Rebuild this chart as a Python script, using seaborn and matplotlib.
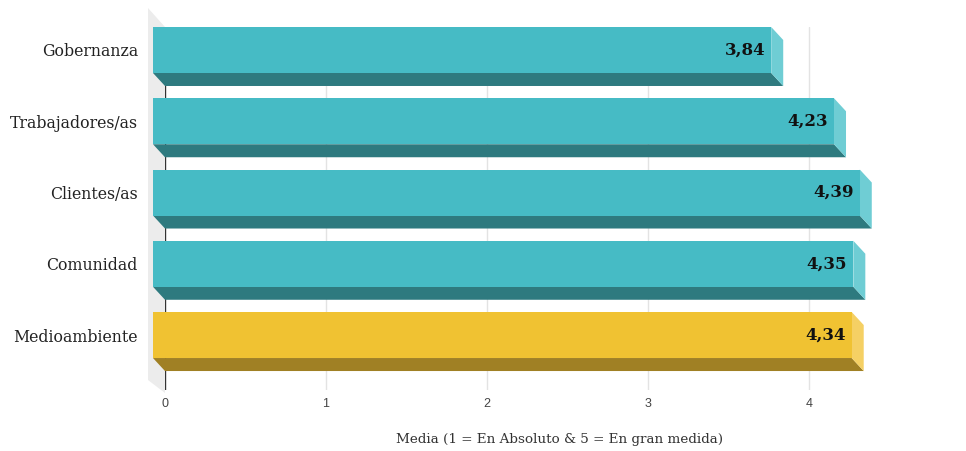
import numpy as np
import pandas as pd
import matplotlib
matplotlib.use("Agg")
import matplotlib.pyplot as plt
from matplotlib.patches import Polygon, Rectangle
from matplotlib.transforms import ScaledTranslation, IdentityTransform
import seaborn as sns

# ---- data ----
categories = ["Gobernanza", "Trabajadores/as", "Clientes/as", "Comunidad", "Medioambiente"]
values = [3.84, 4.23, 4.39, 4.35, 4.34]
front_colors = ["#46BBC5", "#46BBC5", "#46BBC5", "#46BBC5", "#F0C232"]
bottom_colors = ["#2E7A7F", "#2E7A7F", "#2E7A7F", "#2E7A7F", "#A08024"]
side_colors = ["#6FCDD4", "#6FCDD4", "#6FCDD4", "#6FCDD4", "#F5D064"]
x_ticks = [0, 1, 2, 3, 4]
x_label = "Media (1 = En Absoluto & 5 = En gran medida)"

df = pd.DataFrame({"categoria": categories, "media": values})

sns.set_style("white")
plt.rcParams["font.family"] = ["DejaVu Serif"]

DPI = 100
W, H = 966, 451
fig = plt.figure(figsize=(W / DPI, H / DPI), dpi=DPI)

# plot area (back plane) in pixels
left_px, right_px, top_px, bottom_px = 165, 955, 27, 390
ax = fig.add_axes([left_px / W, (H - bottom_px) / H,
                   (right_px - left_px) / W, (bottom_px - top_px) / H])

# 3D depth: front face sits up and to the left of the back plane
DX, DY = -12, 13  # pixels (display y points up)
front = ScaledTranslation(DX / DPI, DY / DPI, fig.dpi_scale_trans)

sns.barplot(data=df, x="media", y="categoria", hue="categoria",
            palette=front_colors, orient="h", width=46 / 71.25,
            saturation=1, legend=False, ax=ax, zorder=5)
bars = [p for p in ax.patches if isinstance(p, Rectangle)]

ax.set_xlim(0, 4.907)
ax.set_ylim(4.589, -0.505)
ax.set_xticks(x_ticks)
ax.set_xticklabels([str(t) for t in x_ticks], fontfamily="Liberation Sans",
                   fontsize=9, color="#444444")
ax.tick_params(axis="x", length=0, pad=6)
ax.tick_params(axis="y", length=0, pad=19.5)
for lab in ax.get_yticklabels():
    lab.set_fontsize(11.3)
    lab.set_color("#222222")
    lab.set_transform(lab.get_transform() + ScaledTranslation(0, DY / DPI, fig.dpi_scale_trans))
ax.set_ylabel("")
ax.set_xlabel(x_label, fontsize=9.7, color="#333333")
ax.xaxis.set_label_coords(0.5, -(440 - bottom_px) / (bottom_px - top_px))
ax.xaxis.label.set_va("center")

for s in ax.spines.values():
    s.set_visible(False)

# grid on the back plane
for t in x_ticks[1:]:
    ax.axvline(t, color="#E3E3E3", lw=1, zorder=1)
ax.axvline(0, color="#333333", lw=1, zorder=1.5)

fig.canvas.draw()
to_disp = ax.transData.transform

# left wall
x0d, y_top = to_disp((0, -0.505))
_, y_bot = to_disp((0, 4.589))
wall = Polygon([(x0d - 17, y_top + 19), (x0d, y_top), (x0d, y_bot - 3),
                (x0d - 17, y_bot + 10)], closed=True, transform=IdentityTransform(),
               facecolor="#ECECEC", edgecolor="none", zorder=0.5, clip_on=False)
ax.add_artist(wall)

# bar faces
for i, p in enumerate(bars):
    x, y, w, h = p.get_x(), p.get_y(), p.get_width(), p.get_height()
    (bx0, by_top), (bx1, by_bot) = to_disp((x, y)), to_disp((x + w, y + h))
    fx0, fx1 = bx0 + DX, bx1 + DX
    fy_top, fy_bot = by_top + DY, by_bot + DY
    bottom = Polygon([(fx0, fy_bot), (fx1, fy_bot), (bx1, by_bot), (bx0, by_bot)],
                     closed=True, transform=IdentityTransform(),
                     facecolor=bottom_colors[i], edgecolor="none", zorder=4, clip_on=False)
    side = Polygon([(fx1, fy_top), (bx1, by_top), (bx1, by_bot), (fx1, fy_bot)],
                   closed=True, transform=IdentityTransform(),
                   facecolor=side_colors[i], edgecolor="none", zorder=4, clip_on=False)
    ax.add_artist(bottom)
    ax.add_artist(side)
    p.set_transform(ax.transData + front)
    p.set_edgecolor("none")
    p.set_clip_on(False)

    ax.text(x + w, y + h / 2, f"{values[i]:.2f}".replace(".", ","),
            transform=ax.transData + ScaledTranslation((DX - 6) / DPI, DY / DPI, fig.dpi_scale_trans),
            ha="right", va="center", fontsize=12, fontweight="bold",
            color="#111111", zorder=6)

fig.savefig("out.png", dpi=DPI)
